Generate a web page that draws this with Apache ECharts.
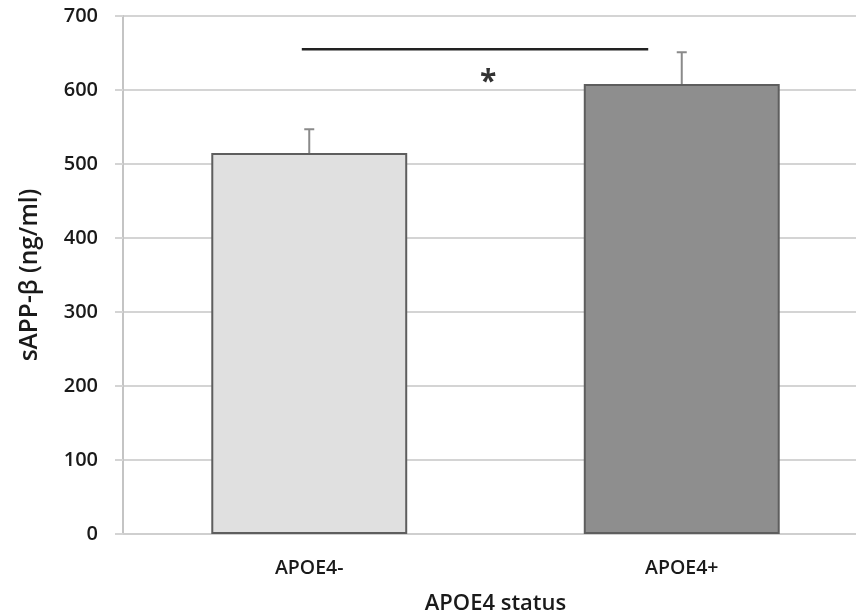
<!DOCTYPE html>
<html>
<head>
<meta charset="utf-8">
<script src="https://cdn.jsdelivr.net/npm/echarts@6/dist/echarts.min.js"></script>
<style>html,body{margin:0;padding:0;background:#fff}#c{width:856px;height:616px}</style>
</head>
<body>
<div id="c"></div>
<script>
var categories = ['APOE4-', 'APOE4+'];
var means = [515, 608];
var errorTops = [547, 651];
var barColors = ['#e0e0e0', '#8e8e8e'];
var yTicks = [0, 100, 200, 300, 400, 500, 600, 700];
var sigLine = [[-0.02, 655], [0.91, 655]];
var sigMark = [[0.48, 617]];

var chart = echarts.init(document.getElementById('c'));
var font = '"Open Sans", sans-serif';
chart.setOption({
  animation: false,
  grid: { left: 123, right: -12, top: 16, bottom: 82, containLabel: false, outerBoundsMode: 'none' },
  xAxis: [{
    type: 'category',
    data: categories,
    name: 'APOE4 status',
    nameLocation: 'middle',
    nameGap: 59,
    nameTextStyle: { fontFamily: font, fontSize: 22, fontWeight: 600, color: '#1a1a1a' },
    axisLine: { show: true, lineStyle: { color: '#cfcfcf', width: 2 } },
    axisTick: { show: false },
    axisLabel: { fontFamily: font, fontSize: 19.5, fontWeight: 600, color: '#1a1a1a', margin: 24 },
    splitLine: { show: false }
  }, {
    type: 'value',
    min: -0.5, max: 1.5,
    show: false,
    axisLine: { show: false },
    splitLine: { show: false }
  }],
  yAxis: {
    type: 'value',
    min: 0, max: 700, interval: 100,
    name: 'sAPP-β (ng/ml)',
    nameLocation: 'middle',
    nameGap: 80,
    nameTextStyle: { fontFamily: font, fontSize: 24.5, fontWeight: 600, color: '#1a1a1a', padding: [0, 0, 0, 0] },
    axisLine: { show: true, onZero: false, lineStyle: { color: '#c4c4c4', width: 2 } },
    axisTick: { show: true, length: 8, lineStyle: { color: '#d4d4d4', width: 2 } },
    axisLabel: { fontFamily: font, fontSize: 20, fontWeight: 600, color: '#1a1a1a', margin: 25,
      formatter: function (v) { return yTicks.indexOf(v) >= 0 ? String(v) : ''; } },
    splitLine: { show: true, lineStyle: { color: '#d4d4d4', width: 2 } }
  },
  series: [{
    type: 'bar',
    data: means.map(function (v, i) {
      return { value: v, itemStyle: { color: barColors[i] } };
    }),
    barWidth: '52.6%',
    itemStyle: { borderColor: '#5e5e5e', borderWidth: 2 },
    z: 3
  }, {
    type: 'custom',
    z: 2,
    clip: false,
    data: errorTops.map(function (v, i) { return [i, v]; }),
    encode: { x: 0, y: 1 },
    renderItem: function (params, api) {
      var i = params.dataIndex;
      var base = api.coord([i, means[i]]);
      var top = api.coord([i, errorTops[i]]);
      var hw = 5;
      return {
        type: 'polyline',
        shape: { points: [[base[0], base[1]], [top[0], top[1]], [top[0] - hw, top[1]], [top[0] + hw, top[1]]] },
        style: { stroke: '#8a8a8a', lineWidth: 2, fill: null }
      };
    }
  }, {
    type: 'line',
    xAxisIndex: 1,
    data: sigLine,
    symbol: 'none',
    lineStyle: { color: '#222', width: 2.5 },
    z: 5
  }, {
    type: 'scatter',
    xAxisIndex: 1,
    data: sigMark,
    symbolSize: 0,
    label: { show: true, position: 'inside', offset: [0, 5], formatter: '*', fontFamily: font, fontSize: 30, fontWeight: 'bold', color: '#000' },
    z: 5
  }]
});
</script>
</body>
</html>
